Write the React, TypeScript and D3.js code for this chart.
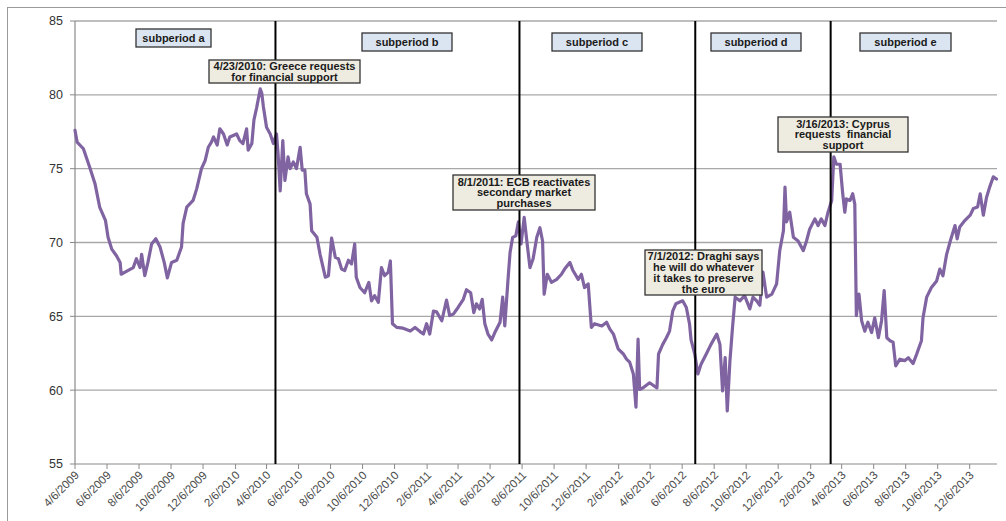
import * as d3 from "d3";

const W = 1006;
const H = 521;
const M = { left: 75, right: 997, top: 21, bottom: 464 };

const dates = [
  "2009-04-06", "2009-04-10", "2009-04-22", "2009-05-04", "2009-05-14", "2009-05-23", "2009-06-03", "2009-06-08",
  "2009-06-15", "2009-06-24", "2009-07-01", "2009-07-03", "2009-07-13", "2009-07-26", "2009-08-01", "2009-08-08",
  "2009-08-11", "2009-08-17", "2009-08-23", "2009-08-30", "2009-09-07", "2009-09-15", "2009-09-23", "2009-09-29",
  "2009-10-07", "2009-10-17", "2009-10-26", "2009-10-29", "2009-11-05", "2009-11-17", "2009-11-24", "2009-12-03",
  "2009-12-10", "2009-12-16", "2009-12-22", "2009-12-26", "2010-01-02", "2010-01-07", "2010-01-14", "2010-01-21",
  "2010-01-26", "2010-02-08", "2010-02-14", "2010-02-20", "2010-02-27", "2010-03-02", "2010-03-09", "2010-03-13",
  "2010-03-18", "2010-03-25", "2010-03-28", "2010-03-31", "2010-04-06", "2010-04-13", "2010-04-19", "2010-04-25",
  "2010-04-28", "2010-05-02", "2010-05-07", "2010-05-11", "2010-05-17", "2010-05-21", "2010-05-27", "2010-06-02",
  "2010-06-09", "2010-06-13", "2010-06-18", "2010-06-21", "2010-06-28", "2010-07-01", "2010-07-11", "2010-07-17",
  "2010-07-27", "2010-08-02", "2010-08-08", "2010-08-15", "2010-08-21", "2010-08-27", "2010-09-02", "2010-09-09",
  "2010-09-15", "2010-09-21", "2010-09-24", "2010-10-01", "2010-10-10", "2010-10-18", "2010-10-23", "2010-10-29",
  "2010-11-05", "2010-11-11", "2010-11-17", "2010-11-24", "2010-11-28", "2010-12-02", "2010-12-10", "2010-12-22",
  "2011-01-05", "2011-01-14", "2011-01-24", "2011-01-30", "2011-02-05", "2011-02-11", "2011-02-18", "2011-02-24",
  "2011-03-06", "2011-03-15", "2011-03-21", "2011-03-28", "2011-04-06", "2011-04-16", "2011-04-22", "2011-04-30",
  "2011-05-06", "2011-05-11", "2011-05-17", "2011-05-22", "2011-05-27", "2011-06-02", "2011-06-09", "2011-06-15",
  "2011-06-25", "2011-06-30", "2011-07-04", "2011-07-10", "2011-07-14", "2011-07-19", "2011-07-25", "2011-07-30",
  "2011-08-04", "2011-08-10", "2011-08-15", "2011-08-21", "2011-08-27", "2011-09-03", "2011-09-09", "2011-09-14",
  "2011-09-17", "2011-09-23", "2011-10-01", "2011-10-11", "2011-10-20", "2011-10-26", "2011-11-05", "2011-11-11",
  "2011-11-21", "2011-11-27", "2011-12-03", "2011-12-10", "2011-12-16", "2011-12-22", "2012-01-05", "2012-01-14",
  "2012-01-20", "2012-01-27", "2012-02-05", "2012-02-15", "2012-02-21", "2012-02-27", "2012-03-05", "2012-03-10",
  "2012-03-14", "2012-03-17", "2012-03-23", "2012-04-05", "2012-04-19", "2012-04-22", "2012-04-30", "2012-05-07",
  "2012-05-13", "2012-05-19", "2012-05-25", "2012-06-07", "2012-06-14", "2012-06-20", "2012-06-23", "2012-06-30",
  "2012-07-06", "2012-07-12", "2012-07-22", "2012-07-31", "2012-08-11", "2012-08-17", "2012-08-22", "2012-08-27",
  "2012-08-31", "2012-09-05", "2012-09-10", "2012-09-15", "2012-09-24", "2012-10-03", "2012-10-13", "2012-10-19",
  "2012-10-26", "2012-11-01", "2012-11-07", "2012-11-14", "2012-11-24", "2012-12-03", "2012-12-09", "2012-12-16",
  "2012-12-19", "2012-12-22", "2012-12-28", "2013-01-04", "2013-01-13", "2013-01-23", "2013-01-29", "2013-02-04",
  "2013-02-14", "2013-02-20", "2013-02-26", "2013-03-05", "2013-03-11", "2013-03-18", "2013-03-22", "2013-03-27",
  "2013-04-03", "2013-04-08", "2013-04-12", "2013-04-15", "2013-04-22", "2013-04-27", "2013-05-01", "2013-05-04",
  "2013-05-09", "2013-05-14", "2013-05-20", "2013-05-26", "2013-06-02", "2013-06-08", "2013-06-15", "2013-06-21",
  "2013-06-26", "2013-07-01", "2013-07-07", "2013-07-13", "2013-07-18", "2013-07-26", "2013-08-04", "2013-08-11",
  "2013-08-20", "2013-08-27", "2013-09-05", "2013-09-08", "2013-09-15", "2013-09-24", "2013-10-04", "2013-10-10",
  "2013-10-16", "2013-10-23", "2013-10-30", "2013-11-08", "2013-11-12", "2013-11-17", "2013-11-27", "2013-12-07",
  "2013-12-13", "2013-12-21", "2013-12-26", "2014-01-01", "2014-01-07", "2014-01-13", "2014-01-20", "2014-01-26",
];

const values = [
  77.6, 76.8, 76.35, 75.1, 74.0, 72.4, 71.5, 70.35,
  69.55, 69.1, 68.65, 67.85, 68.05, 68.3, 68.9, 68.3,
  69.2, 67.75, 68.65, 69.9, 70.25, 69.7, 68.65, 67.6,
  68.65, 68.8, 69.7, 71.3, 72.4, 72.85, 73.65, 75.0,
  75.55, 76.45, 76.8, 77.15, 76.6, 77.7, 77.35, 76.6,
  77.15, 77.35, 76.9, 76.7, 77.7, 76.25, 76.7, 78.3,
  79.1, 80.4, 80.1, 79.2, 77.8, 77.35, 76.7, 77.35,
  76.0, 73.5, 76.9, 74.2, 75.8, 75.0, 75.45, 75.0,
  76.45, 74.9, 74.9, 73.3, 72.6, 70.8, 70.35, 69.2,
  67.65, 67.75, 70.3, 69.0, 68.9, 68.2, 68.1, 68.8,
  68.55, 69.9, 67.65, 66.95, 66.6, 67.3, 66.05, 66.4,
  65.95, 68.3, 67.75, 68.0, 68.75, 64.5, 64.25, 64.2,
  64.0, 64.25, 63.95, 63.8, 64.5, 63.8, 65.35, 65.3,
  64.7, 66.1, 65.05, 65.15, 65.6, 66.15, 66.8, 66.6,
  65.25, 65.85, 65.5, 66.15, 64.5, 63.8, 63.4, 63.9,
  64.6, 66.3, 64.35, 67.4, 69.3, 70.35, 70.45, 71.4,
  69.9, 71.7, 70.1, 68.3, 68.9, 70.35, 71.0, 70.1,
  66.5, 67.85, 67.3, 67.5, 67.85, 68.2, 68.65, 68.1,
  67.5, 67.85, 66.95, 67.2, 64.25, 64.5, 64.35, 64.6,
  64.15, 63.8, 62.8, 62.45, 62.1, 61.9, 61.1, 58.85,
  63.45, 60.05, 60.15, 60.5, 60.15, 62.45, 63.1, 63.55,
  64.0, 65.35, 65.85, 66.05, 65.6, 64.5, 63.4, 62.45,
  61.1, 61.75, 62.45, 63.1, 63.8, 63.1, 59.95, 62.2,
  58.6, 61.95, 64.25, 66.3, 66.05, 66.4, 65.5, 66.3,
  66.05, 65.75, 68.0, 66.3, 66.5, 67.2, 69.45, 70.8,
  73.75, 71.4, 72.05, 70.35, 70.1, 69.45, 70.1, 70.9,
  71.6, 71.15, 71.6, 71.15, 72.05, 72.85, 75.8, 75.3,
  75.3, 73.3, 72.05, 72.95, 72.85, 73.3, 72.6, 65.05,
  66.5, 64.7, 64.0, 64.6, 63.9, 64.9, 63.55, 64.7,
  66.75, 63.55, 63.35, 63.25, 61.65, 62.1, 62.0, 62.2,
  61.8, 62.45, 63.35, 64.9, 66.3, 66.95, 67.4, 68.2,
  67.75, 69.2, 70.1, 71.15, 70.25, 71.05, 71.5, 71.85,
  72.3, 72.4, 73.3, 71.85, 73.05, 73.75, 74.45, 74.3,
];

const xDomain = ["4/6/2009", "1/27/2014"];
const tickLabels = [
  "4/6/2009", "6/6/2009", "8/6/2009", "10/6/2009", "12/6/2009", "2/6/2010", "4/6/2010", "6/6/2010",
  "8/6/2010", "10/6/2010", "12/6/2010", "2/6/2011", "4/6/2011", "6/6/2011", "8/6/2011", "10/6/2011",
  "12/6/2011", "2/6/2012", "4/6/2012", "6/6/2012", "8/6/2012", "10/6/2012", "12/6/2012", "2/6/2013",
  "4/6/2013", "6/6/2013", "8/6/2013", "10/6/2013", "12/6/2013",
];
const yTicks = [55, 60, 65, 70, 75, 80, 85];

const eventDates = ["4/23/2010", "8/1/2011", "7/1/2012", "3/16/2013"];
const eventLines = [
  ["4/23/2010: Greece requests", "for financial support"],
  ["8/1/2011: ECB reactivates", "secondary market", "purchases"],
  ["7/1/2012: Draghi says", "he will do whatever", "it takes to preserve", "the euro"],
  ["3/16/2013: Cyprus", "requests  financial", "support"],
];
const subperiods = ["subperiod a", "subperiod b", "subperiod c", "subperiod d", "subperiod e"];

// layout of the drawn shapes (px)
const eventBoxes = [
  { x: 209, y: 60, w: 151, h: 23 },
  { x: 453, y: 175, w: 142, h: 35 },
  { x: 645, y: 250, w: 117, h: 45 },
  { x: 778, y: 117, w: 130, h: 35 },
];
const subBoxes = [
  { x: 136, y: 29, w: 75 },
  { x: 362, y: 33, w: 90 },
  { x: 552, y: 33, w: 90 },
  { x: 711, y: 33, w: 90 },
  { x: 860, y: 33, w: 91 },
];

const parseIso = d3.timeParse("%Y-%m-%d");
const parseUs = d3.timeParse("%m/%d/%Y");

const FONT = "'Liberation Sans', Arial, sans-serif";

export default function App() {
  const x = d3
    .scaleTime()
    .domain(xDomain.map((d) => parseUs(d) as Date))
    .range([M.left, M.right]);
  const y = d3.scaleLinear().domain([55, 85]).range([M.bottom, M.top]);

  const points = dates.map((d, i) => ({ date: parseIso(d) as Date, value: values[i] }));
  const line = d3
    .line<{ date: Date; value: number }>()
    .x((d) => x(d.date))
    .y((d) => y(d.value));

  return (
    <svg
      width={W}
      height={H}
      style={{ position: "fixed", left: 0, top: 0, background: "#fff" }}
      fontFamily={FONT}
    >
      <rect x={7.5} y={7.5} width={W + 20} height={H + 20} fill="#fff" stroke="#9a9a9a" strokeWidth={1} />

      {yTicks.map((t) => (
        <g key={t}>
          {t > 55 && (
            <line x1={M.left} x2={M.right} y1={y(t)} y2={y(t)} stroke="#a8a8a8" strokeWidth={1.4} />
          )}
          <line x1={M.left - 5} x2={M.left} y1={y(t)} y2={y(t)} stroke="#8a8a8a" strokeWidth={1} />
          <text x={M.left - 12} y={y(t)} dy="0.35em" textAnchor="end" fontSize={12.5} fill="#333">
            {t}
          </text>
        </g>
      ))}
      <line x1={M.left} x2={M.left} y1={M.top} y2={M.bottom} stroke="#8a8a8a" strokeWidth={1.2} />
      <line x1={M.left} x2={M.right} y1={M.bottom} y2={M.bottom} stroke="#8a8a8a" strokeWidth={1.2} />

      {tickLabels.map((t) => {
        const tx = x(parseUs(t) as Date);
        return (
          <g key={t}>
            <line x1={tx} x2={tx} y1={M.bottom} y2={M.bottom + 5} stroke="#8a8a8a" strokeWidth={1} />
            <text
              transform={`translate(${tx + 2},${M.bottom + 9}) rotate(-45)`}
              textAnchor="end"
              dy="0.35em"
              fontSize={11.5}
              fill="#4a4a4a"
            >
              {t}
            </text>
          </g>
        );
      })}

      <path
        d={line(points) ?? ""}
        fill="none"
        stroke="#8064a2"
        strokeWidth={3.2}
        strokeLinejoin="round"
        strokeLinecap="round"
      />

      {eventDates.map((d) => {
        const ex = x(parseUs(d) as Date);
        return <line key={d} x1={ex} x2={ex} y1={M.top} y2={M.bottom} stroke="#000" strokeWidth={2} />;
      })}

      {subperiods.map((s, i) => {
        const b = subBoxes[i];
        return (
          <g key={s}>
            <rect x={b.x} y={b.y} width={b.w} height={18} fill="#dbe5f1" stroke="#333" strokeWidth={1.3} />
            <text
              x={b.x + b.w / 2}
              y={b.y + 9}
              dy="0.35em"
              textAnchor="middle"
              fontSize={11}
              fontWeight="bold"
              fill="#1a1a1a"
            >
              {s}
            </text>
          </g>
        );
      })}

      {eventLines.map((lines, i) => {
        const b = eventBoxes[i];
        const lh = 10.9;
        const top = b.y + b.h / 2 - ((lines.length - 1) * lh) / 2;
        return (
          <g key={i}>
            <rect x={b.x} y={b.y} width={b.w} height={b.h} fill="#eeece1" stroke="#333" strokeWidth={1.3} />
            {lines.map((l, j) => (
              <text
                key={j}
                x={b.x + b.w / 2}
                y={top + j * lh}
                dy="0.36em"
                textAnchor="middle"
                fontSize={11}
                fontWeight="bold"
                fill="#1a1a1a"
                style={{ whiteSpace: "pre" }}
              >
                {l}
              </text>
            ))}
          </g>
        );
      })}
    </svg>
  );
}
